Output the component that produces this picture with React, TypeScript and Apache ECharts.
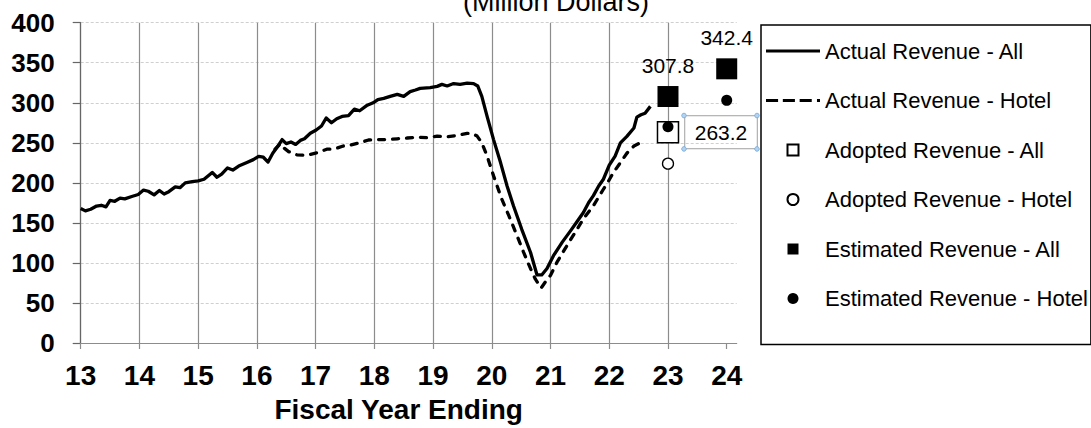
import React, { useEffect, useRef } from 'react';
import * as echarts from 'echarts';

const titleText = '(Million Dollars)';
const xAxisName = 'Fiscal Year Ending';
const xTicks = [13, 14, 15, 16, 17, 18, 19, 20, 21, 22, 23, 24];
const seriesNames = [
  'Actual Revenue - All',
  'Actual Revenue - Hotel',
  'Adopted Revenue - All',
  'Adopted Revenue - Hotel',
  'Estimated Revenue - All',
  'Estimated Revenue - Hotel',
];

const allActual = [
  [13.0, 168], [13.08, 165], [13.17, 167], [13.27, 171], [13.35, 172], [13.43, 170],
  [13.5, 178], [13.58, 177], [13.67, 181], [13.75, 180], [13.87, 183], [13.98, 185.5],
  [14.07, 191], [14.15, 189.5], [14.25, 185], [14.34, 190.5], [14.42, 186], [14.5, 189],
  [14.61, 195], [14.69, 194], [14.78, 200], [14.9, 201.5], [15.0, 202.5], [15.1, 204.5],
  [15.24, 213], [15.32, 207], [15.4, 211], [15.5, 218.6], [15.59, 216], [15.69, 221],
  [15.83, 225.5], [15.94, 229], [16.03, 233], [16.11, 232], [16.19, 226], [16.27, 237],
  [16.36, 246], [16.43, 254], [16.5, 249], [16.58, 251], [16.66, 248], [16.74, 253],
  [16.81, 255], [16.91, 262], [17.01, 266], [17.1, 271], [17.18, 281], [17.27, 275],
  [17.36, 280], [17.45, 283], [17.56, 284], [17.66, 292], [17.75, 290], [17.88, 297],
  [17.98, 300], [18.06, 304], [18.16, 305.5], [18.27, 308], [18.39, 310.5], [18.5, 308],
  [18.61, 314], [18.7, 316], [18.78, 318], [18.95, 319], [19.07, 320.5], [19.15, 323],
  [19.24, 321], [19.35, 324], [19.46, 323], [19.58, 324.5], [19.69, 324], [19.76, 321],
  [19.83, 308], [19.92, 283], [20.03, 254], [20.15, 225], [20.26, 196], [20.37, 171],
  [20.51, 142], [20.66, 113], [20.77, 85], [20.85, 85], [20.94, 93], [21.05, 109],
  [21.2, 126], [21.34, 140], [21.45, 151.5], [21.56, 163], [21.65, 175.5], [21.73, 184],
  [21.82, 196], [21.9, 204.5], [22.0, 222], [22.1, 233.5], [22.19, 250], [22.3, 258],
  [22.42, 268.5], [22.47, 282], [22.54, 285], [22.61, 287], [22.7, 295.5],
];

const hotelActual = [
  [16.31, 242], [16.4, 249], [16.47, 243], [16.54, 239], [16.68, 235], [16.85, 234.5],
  [17.02, 237.5], [17.19, 242], [17.33, 242.5], [17.47, 246], [17.58, 247], [17.75, 250],
  [17.9, 253.5], [18.04, 254], [18.21, 254], [18.39, 255], [18.56, 256], [18.76, 257],
  [18.9, 256.3], [19.07, 258.4], [19.24, 257.5], [19.41, 259.2], [19.58, 261.7], [19.66, 261.7],
  [19.75, 258.4], [19.83, 250], [19.92, 233.5], [20.03, 208.7], [20.17, 179.7], [20.29, 159],
  [20.43, 134], [20.54, 113.5], [20.66, 92.8], [20.74, 80], [20.84, 68.7], [20.91, 76],
  [21.0, 84.5], [21.11, 101], [21.28, 121.7], [21.42, 138.3], [21.56, 155], [21.73, 171.4],
  [21.9, 192], [21.99, 202.5], [22.07, 212.8], [22.19, 225.3], [22.3, 237], [22.42, 246],
  [22.53, 250], [22.62, 252],
];

const adoptedAll = [[23, 263.2]];
const adoptedHotel = [[23, 224]];
const estimatedAll = [[23, 307.8], [24, 342.4]];
const estimatedHotel = [[23, 270], [24, 303]];

const FONT = "'Liberation Sans', Arial, Helvetica, sans-serif";
const SQUARE = 'path://M0,0L10,0L10,10L0,10Z';
const SOLID_ICON = 'path://M0,0L54,0L54,3L0,3Z';
const DASH_ICON =
  'path://M0,0L12,0L12,3L0,3Z M16.7,0L28.7,0L28.7,3L16.7,3Z M33.4,0L45.4,0L45.4,3L33.4,3Z M50.6,0L53.6,0L53.6,3L50.6,3Z';

export default function App() {
  const ref = useRef<HTMLDivElement>(null);

  useEffect(() => {
    const chart = echarts.init(ref.current as HTMLDivElement, null, { renderer: 'svg' });
    const gridColor = '#8c8c8c';
    const axisColor = '#666666';
    chart.setOption({
      animation: false,
      backgroundColor: '#ffffff',
      title: {
        text: titleText,
        left: 556,
        top: -12,
        textAlign: 'center',
        padding: 0,
        textStyle: { fontFamily: FONT, fontSize: 27, fontWeight: 'normal', color: '#000' },
      },
      grid: { left: 80.7, right: 354.3, top: 22.7, bottom: 83.3, containLabel: false },
      legend: {
        orient: 'vertical',
        left: 761,
        top: 25,
        borderColor: '#000',
        borderWidth: 1.5,
        padding: [15, 3, 35, 5],
        itemWidth: 54,
        itemHeight: 11,
        itemGap: 27.5,
        textStyle: { fontFamily: FONT, fontSize: 22, color: '#000' },
        data: [
          { name: seriesNames[0], icon: SOLID_ICON },
          { name: seriesNames[1], icon: DASH_ICON },
          { name: seriesNames[2], icon: SQUARE },
          { name: seriesNames[3], icon: 'circle' },
          { name: seriesNames[4], icon: SQUARE },
          { name: seriesNames[5], icon: 'circle' },
        ],
      },
      xAxis: {
        type: 'value',
        min: 13,
        max: 24.17,
        interval: 1,
        name: xAxisName,
        nameLocation: 'middle',
        nameGap: 52,
        nameTextStyle: {
          fontFamily: FONT, fontSize: 28, fontWeight: 'bold', color: '#000',
          padding: [0, 20, 0, 0],
        },
        axisLine: { show: true, onZero: false, lineStyle: { color: gridColor, width: 1.2 } },
        axisTick: { show: true, length: 6, inside: false, customValues: xTicks, lineStyle: { color: gridColor, width: 1.2 } },
        axisLabel: {
          customValues: xTicks,
          margin: 18,
          fontFamily: FONT, fontSize: 28, fontWeight: 'bold', color: '#000',
          formatter: (v: number) => String(v),
        },
        splitLine: { show: true, showMaxLine: false, lineStyle: { color: gridColor, width: 1.2 } },
      },
      yAxis: {
        type: 'value',
        min: 0,
        max: 400,
        interval: 50,
        axisLine: { show: true, lineStyle: { color: axisColor, width: 1.2 } },
        axisTick: { show: true, length: 8, lineStyle: { color: axisColor, width: 1.2 } },
        axisLabel: { margin: 26, fontFamily: FONT, fontSize: 26, fontWeight: 'bold', color: '#000' },
        splitLine: { show: true, lineStyle: { color: '#cfcfcf', width: 1, type: [3, 2] } },
      },
      series: [
        {
          name: seriesNames[0],
          type: 'line',
          data: allActual,
          symbol: 'none',
          lineStyle: { color: '#000', width: 3.3, join: 'round' },
          itemStyle: { color: '#000' },
          z: 3,
        },
        {
          name: seriesNames[1],
          type: 'line',
          data: hotelActual,
          symbol: 'none',
          lineStyle: { color: '#000', width: 3.3, type: [6, 8], cap: 'round', join: 'round' },
          itemStyle: { color: '#000' },
          z: 3,
        },
        {
          name: seriesNames[2],
          type: 'scatter',
          data: adoptedAll,
          symbol: 'rect',
          symbolSize: 21,
          itemStyle: { color: '#fff', borderColor: '#000', borderWidth: 1.5, opacity: 1 },
          label: {
            show: true,
            position: 'right',
            distance: 5.5,
            padding: [6, 10],
            borderColor: '#a0a0a0',
            borderWidth: 1,
            fontFamily: FONT,
            fontSize: 21,
            color: '#000',
            formatter: (p: any) => p.value[1].toFixed(1),
          },
          z: 4,
        },
        {
          name: seriesNames[3],
          type: 'scatter',
          data: adoptedHotel,
          symbol: 'circle',
          symbolSize: 11,
          itemStyle: { color: '#fff', borderColor: '#000', borderWidth: 1.3, opacity: 1 },
          z: 4,
        },
        {
          name: seriesNames[4],
          type: 'scatter',
          data: estimatedAll,
          symbol: 'rect',
          symbolSize: 21,
          itemStyle: { color: '#000', borderColor: '#000', borderWidth: 0, opacity: 1 },
          label: {
            show: true,
            position: 'top',
            distance: 10,
            fontFamily: FONT,
            fontSize: 21,
            color: '#000',
            formatter: (p: any) => p.value[1].toFixed(1),
          },
          z: 4,
        },
        {
          name: seriesNames[5],
          type: 'scatter',
          data: estimatedHotel,
          symbol: 'circle',
          symbolSize: 11,
          itemStyle: { color: '#000', borderColor: '#000', borderWidth: 0, opacity: 1 },
          z: 5,
        },
      ],
    });

    // selection handles around the adopted-value text box
    const p = chart.convertToPixel({ gridIndex: 0 }, adoptedAll[0]) as number[];
    if (p) {
      const left = p[0] + 10.5 + 5.5;
      const right = left + 73;
      const top = p[1] - 16.7;
      const bottom = p[1] + 16.7;
      const handle = (x: number, y: number) => ({
        type: 'circle',
        shape: { cx: x, cy: y, r: 2.3 },
        style: { fill: '#b4d3f0', stroke: '#6fa8dc', lineWidth: 0.8 },
        z: 100,
        silent: true,
      });
      chart.setOption({
        graphic: [handle(left, top), handle(right, top), handle(left, bottom), handle(right, bottom)],
      });
    }

    return () => chart.dispose();
  }, []);

  return (
    <div
      ref={ref}
      style={{ position: 'fixed', left: 0, top: 0, width: 1091, height: 428, background: '#fff' }}
    />
  );
}
